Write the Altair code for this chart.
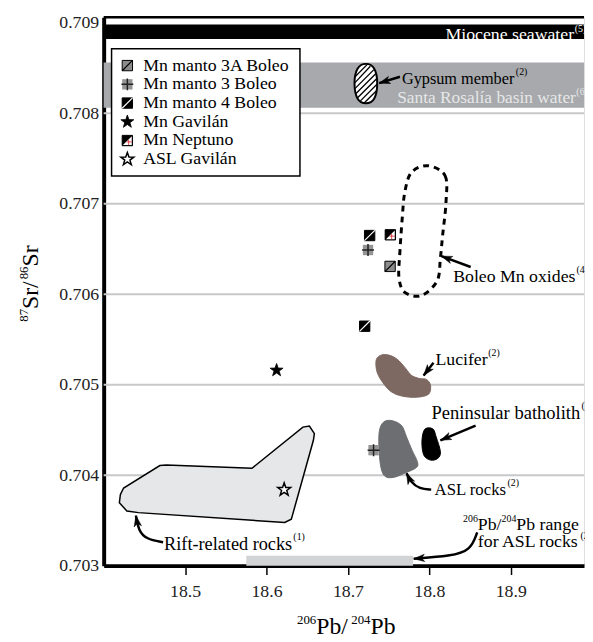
import altair as alt
import pandas as pd

FONT = "Liberation Serif"
W, H = 487, 556
X_DOMAIN = [18.40, 18.99]
Y_DOMAIN = [0.703, 0.70906]

x_ticks = [18.5, 18.6, 18.7, 18.8, 18.9]
y_ticks = [0.703, 0.704, 0.705, 0.706, 0.707, 0.708, 0.709]
grid_y = [0.704, 0.705, 0.706, 0.707, 0.708]

legend_labels = ["Mn manto 3A Boleo", "Mn manto 3 Boleo", "Mn manto 4 Boleo",
                 "Mn Gavilán", "Mn Neptuno", "ASL Gavilán"]

# measured samples
pt_series = ["Mn manto 3A Boleo", "Mn manto 3 Boleo", "Mn manto 3 Boleo",
             "Mn manto 4 Boleo", "Mn manto 4 Boleo", "Mn Gavilán",
             "Mn Neptuno", "ASL Gavilán"]
pt_x = [18.7518, 18.7247, 18.7315, 18.7267, 18.7206, 18.6124, 18.7521, 18.6217]
pt_y = [0.706307, 0.706488, 0.704276, 0.706648, 0.705646, 0.705159, 0.706656, 0.703840]

# horizontal reference bands
band_x0 = [18.40, 18.40]
band_x1 = [18.99, 18.99]
band_y0 = [0.70882, 0.70806]
band_y1 = [0.70898, 0.70856]
band_color = ["#000000", "#a7a9ac"]

# 206Pb/204Pb range for ASL rocks
pbr_x0 = [18.5752]
pbr_x1 = [18.7800]
pbr_y0 = [0.703]
pbr_y1 = [0.70311]

# fields (outlines)
rift_x = [18.4205, 18.4245, 18.4690, 18.4770, 18.5821, 18.6447, 18.6527, 18.6588,
          18.6576, 18.6305, 18.6224, 18.4427, 18.4285, 18.4193]
rift_y = [0.703785, 0.703858, 0.704106, 0.704112, 0.704076, 0.704531, 0.704542, 0.704458,
          0.704385, 0.703513, 0.703477, 0.703586, 0.703604, 0.703695]

asl_x = [18.7538, 18.7659, 18.7720, 18.7788, 18.7853, 18.7841, 18.7699, 18.7558,
         18.7457, 18.7408, 18.7384, 18.7384, 18.7436]
asl_y = [0.704603, 0.704548, 0.704422, 0.704276, 0.704149, 0.704084, 0.704022, 0.703975,
         0.703986, 0.704076, 0.704258, 0.704476, 0.704585]

bath_x = [18.7942, 18.8042, 18.8084, 18.8136, 18.8103, 18.8015, 18.7933, 18.7909]
bath_y = [0.704505, 0.704512, 0.704422, 0.704258, 0.704185, 0.704167, 0.704221, 0.704367]

luc_x = [18.7348, 18.7421, 18.7530, 18.7627, 18.7712, 18.7784, 18.7881, 18.7966,
         18.8015, 18.7990, 18.7845, 18.7675, 18.7542, 18.7445, 18.7360]
luc_y = [0.705275, 0.705330, 0.705319, 0.705264, 0.705177, 0.705101, 0.705068, 0.705057,
         0.704992, 0.704894, 0.704861, 0.704872, 0.704916, 0.705003, 0.705134]

boleo_x = [18.7982, 18.8193, 18.8205, 18.8164, 18.8136, 18.8096, 18.7902, 18.7699,
           18.7627, 18.7639, 18.7667, 18.7699, 18.7781]
boleo_y = [0.707419, 0.707310, 0.707019, 0.706656, 0.706401, 0.706147, 0.705984, 0.706020,
           0.706183, 0.706474, 0.706837, 0.707128, 0.707346]

gyp_x = [18.7221, 18.7324, 18.7360, 18.7324, 18.7221, 18.7118, 18.7081, 18.7118]
gyp_y = [0.708545, 0.708490, 0.708327, 0.708163, 0.708109, 0.708163, 0.708327, 0.708490]

hatch_x0 = [18.72420, 18.72755, 18.73193, 18.73415, 18.73554, 18.73600, 18.73504]
hatch_y0 = [0.708542, 0.708518, 0.708481, 0.708436, 0.708383, 0.708322, 0.708248]
hatch_x1 = [18.70908, 18.70812, 18.70858, 18.70998, 18.71220, 18.71536, 18.71993]
hatch_y1 = [0.708406, 0.708332, 0.708271, 0.708218, 0.708173, 0.708136, 0.708112]

# annotation labels (main text)
rtext = ["Miocene seawater", "Santa Rosalía basin water"]
rtext_x = [18.9778, 18.9800]
rtext_y = [0.708861, 0.708163]
rtext_size = [18, 17.6]
rtext_color = ["#ffffff", "#e6e7e8"]

ltext = ["Gypsum member", "Boleo Mn oxides", "Lucifer", "Peninsular batholith",
         "ASL rocks", "Pb/", "Pb range", "for ASL rocks", "Rift-related rocks"]
ltext_x = [18.7663, 18.8293, 18.8075, 18.8027, 18.8064, 18.8596, 18.9069, 18.8596, 18.4742]
ltext_y = [0.708382, 0.706191, 0.705275, 0.704687, 0.703840, 0.703444, 0.703444, 0.703259, 0.703240]
ltext_size = [16.5, 18, 18, 18.8, 17, 18, 18, 18, 18.5]

# superscripts of the annotation labels
stext = ["(5)", "(6)", "(2)", "(4)", "(2)", "(2)", "(2)", "206", "204", "(2)", "(1)"]
stext_x = [18.9785, 18.9806, 18.9063, 18.9808, 18.8724, 18.9869, 18.8960, 18.8415, 18.8887,
           18.9857, 18.6330]
stext_y = [0.708933, 0.708235, 0.708454, 0.706263, 0.705347, 0.704759, 0.703912, 0.703516,
           0.703516, 0.703331, 0.703312]
stext_color = ["#ffffff", "#e6e7e8", "#000000", "#000000", "#000000", "#000000", "#000000",
               "#000000", "#000000", "#000000", "#000000"]

# axis titles, split into normal and superscript pieces
xt_text = ["206", "Pb/", "204", "Pb"]
xt_sup = [True, False, True, False]
yt_text = ["87", "Sr/", "86", "Sr"]
yt_sup = [True, False, True, False]

# arrows
arrow_id = ["gyp"] * 2 + ["boleo"] * 2 + ["luc"] * 2 + ["bath"] * 2 + ["asl"] * 4 + ["pbr"] * 4 + ["rift"] * 4
arrow_x = [18.7639, 18.7384,
           18.8508, 18.8148,
           18.8051, 18.7930,
           18.8568, 18.8136,
           18.8023, 18.7881, 18.7772, 18.7720,
           18.8588, 18.8508, 18.8265, 18.7808,
           18.4730, 18.4524, 18.4427, 18.4396]
arrow_y = [0.708403, 0.708332,
           0.706300, 0.706420,
           0.705243, 0.705101,
           0.704548, 0.704385,
           0.703840, 0.703847, 0.703924, 0.704022,
           0.703368, 0.703168, 0.703106, 0.703077,
           0.703259, 0.703292, 0.703390, 0.703553]
head_x = [18.7384, 18.8148, 18.7930, 18.8136, 18.7720, 18.7808, 18.4396]
head_y = [0.708332, 0.706420, 0.705101, 0.704385, 0.704022, 0.703077, 0.703553]
head_angle = [253, 290, 218, 247, 334, 266, 350]

# ---------------------------------------------------------------- helpers
xs = alt.Scale(domain=X_DOMAIN, nice=False, zero=False)
ys = alt.Scale(domain=Y_DOMAIN, nice=False, zero=False)
x_axis = alt.Axis(values=x_ticks, format=".1f", title="", grid=False,
                  domainColor="black", domainWidth=4, tickColor="black", tickWidth=1.5,
                  tickSize=9, labelFont=FONT, labelFontSize=18, labelColor="#222222",
                  labelPadding=8)
y_axis = alt.Axis(values=y_ticks, format=".3f", title="", grid=False, ticks=False,
                  tickSize=0, domainColor="black", domainWidth=4, labelFont=FONT,
                  labelFontSize=18, labelColor="#222222", labelPadding=5)


def X(f):
    return alt.X(f, type="quantitative", scale=xs, axis=x_axis)


def Y(f):
    return alt.Y(f, type="quantitative", scale=ys, axis=y_axis)


def shape_layer(sx, sy, interp, **mk):
    df = pd.DataFrame({"x": sx, "y": sy, "i": list(range(len(sx)))})
    return alt.Chart(df).mark_line(interpolate=interp, **mk).encode(
        x=X("x"), y=Y("y"), order=alt.Order("i:Q"))


DIAG = "M-1,1L1,-1"
CROSS = "M-1.15,0L1.15,0M0,-1.15L0,1.15"
STAR = ("M0,-1L0.235,-0.324L0.951,-0.309L0.38,0.124L0.588,0.809L0,0.4L-0.588,0.809"
        "L-0.38,0.124L-0.951,-0.309L-0.235,-0.324Z")
TRI = "M1,-1L1,1L-1,1Z"
RED = "M0.3,-0.2L0.3,1M-0.2,0.3L1,0.3"
HEAD = "M0,0L0.75,2.2L0,1.6L-0.75,2.2Z"

components = {
    "Mn manto 3A Boleo": [dict(shape="square", size=110, fill="#8c8c8c", stroke="black", strokeWidth=1),
                          dict(shape=DIAG, size=110, fill="transparent", stroke="black", strokeWidth=1.2)],
    "Mn manto 3 Boleo": [dict(shape="square", size=110, fill="#949494", stroke="transparent", strokeWidth=0),
                         dict(shape=CROSS, size=110, fill="transparent", stroke="#222222", strokeWidth=1.5)],
    "Mn manto 4 Boleo": [dict(shape="square", size=110, fill="black", stroke="black", strokeWidth=1),
                         dict(shape=DIAG, size=110, fill="transparent", stroke="white", strokeWidth=1.2)],
    "Mn Gavilán": [dict(shape=STAR, size=190, fill="black", stroke="black", strokeWidth=0.8)],
    "Mn Neptuno": [dict(shape="square", size=110, fill="black", stroke="black", strokeWidth=1),
                   dict(shape=TRI, size=80, fill="white", stroke="transparent", strokeWidth=0),
                   dict(shape=RED, size=80, fill="transparent", stroke="#e0202a", strokeWidth=0.8)],
    "ASL Gavilán": [dict(shape=STAR, size=190, fill="white", stroke="black", strokeWidth=1.5)],
}


def marker_layers(df, xenc, yenc):
    out = []
    for s in legend_labels:
        for comp in components[s]:
            out.append(alt.Chart(df).transform_filter(alt.datum.series == s)
                       .mark_point(opacity=1, fillOpacity=1, **comp)
                       .encode(x=xenc, y=yenc))
    return out


one = pd.DataFrame({"k": [0]})

# ---------------------------------------------------------------- data layers
grid = alt.Chart(pd.DataFrame({"y": grid_y})).mark_rule(color="#c7c8ca", strokeWidth=2).encode(y=Y("y"))

bands = alt.Chart(pd.DataFrame({"x0": band_x0, "x1": band_x1, "y0": band_y0, "y1": band_y1,
                                "c": band_color})).mark_rect().encode(
    x=X("x0"), x2="x1", y=Y("y0"), y2="y1", color=alt.Color("c:N", scale=None))

pbr = alt.Chart(pd.DataFrame({"x0": pbr_x0, "x1": pbr_x1, "y0": pbr_y0, "y1": pbr_y1})).mark_rect(
    color="#d1d3d4").encode(x=X("x0"), x2="x1", y=Y("y0"), y2="y1")

rift = shape_layer(rift_x, rift_y, "linear-closed", fill="#e6e7e8", stroke="black", strokeWidth=1.5)
asl = shape_layer(asl_x, asl_y, "cardinal-closed", fill="#6d6e71", stroke="#6d6e71", strokeWidth=1)
bath = shape_layer(bath_x, bath_y, "cardinal-closed", fill="black", stroke="black", strokeWidth=1)
luc = shape_layer(luc_x, luc_y, "cardinal-closed", fill="#7d6962", stroke="#7d6962", strokeWidth=1)
boleo = shape_layer(boleo_x, boleo_y, "cardinal-closed", stroke="black", strokeWidth=3,
                    strokeDash=[6, 5])
gyp = shape_layer(gyp_x, gyp_y, "cardinal-closed", fill="white", stroke="black", strokeWidth=2)
hatch = alt.Chart(pd.DataFrame({"x0": hatch_x0, "y0": hatch_y0, "x1": hatch_x1, "y1": hatch_y1})).mark_rule(
    color="black", strokeWidth=1.3).encode(x=X("x0"), y=Y("y0"), x2="x1", y2="y1")

pts_df = pd.DataFrame({"series": pt_series, "x": pt_x, "y": pt_y})
pts = marker_layers(pts_df, X("x"), Y("y"))

arrows = alt.Chart(pd.DataFrame({"a": arrow_id, "x": arrow_x, "y": arrow_y,
                                 "i": list(range(len(arrow_x)))})).mark_line(
    interpolate="basis", color="black", strokeWidth=2.5).encode(
    x=X("x"), y=Y("y"), detail="a:N", order=alt.Order("i:Q"))
heads = alt.Chart(pd.DataFrame({"x": head_x, "y": head_y, "ang": head_angle})).mark_point(
    shape=HEAD, size=100, filled=True, fill="black", stroke="black", strokeWidth=0.5,
    opacity=1).encode(x=X("x"), y=Y("y"), angle=alt.Angle("ang:Q", scale=None))

rt = alt.Chart(pd.DataFrame({"t": rtext, "x": rtext_x, "y": rtext_y, "c": rtext_color,
                             "s": rtext_size})).mark_text(
    align="right", baseline="middle", font=FONT).encode(
    x=X("x"), y=Y("y"), text="t:N", color=alt.Color("c:N", scale=None),
    size=alt.Size("s:Q", scale=None))
lt = alt.Chart(pd.DataFrame({"t": ltext, "x": ltext_x, "y": ltext_y, "s": ltext_size})).mark_text(
    align="left", baseline="middle", font=FONT, color="black").encode(
    x=X("x"), y=Y("y"), text="t:N", size=alt.Size("s:Q", scale=None))
st = alt.Chart(pd.DataFrame({"t": stext, "x": stext_x, "y": stext_y, "c": stext_color})).mark_text(
    align="left", baseline="middle", font=FONT, fontSize=10).encode(
    x=X("x"), y=Y("y"), text="t:N", color=alt.Color("c:N", scale=None))

topline = alt.Chart(one).mark_rule(color="black", strokeWidth=2.5).encode(y=alt.value(0))

# axis titles built from pieces (superscripts)
xt_pos = [196, 215.5, 251, 270.5]
yt_pos = [308.7, 295.7, 265.7, 252.7]
xt_layers = []
yt_layers = []
for k in range(4):
    xsub = pd.DataFrame({"t": [xt_text[k]]})
    xt_layers.append(alt.Chart(xsub).mark_text(
        align="left", baseline="alphabetic", font=FONT,
        fontSize=13 if xt_sup[k] else 24, color="black").encode(
        x=alt.value(xt_pos[k]), y=alt.value(615 if xt_sup[k] else 625), text="t:N"))
    ysub = pd.DataFrame({"t": [yt_text[k]]})
    yt_layers.append(alt.Chart(ysub).mark_text(
        align="left", baseline="alphabetic", font=FONT, angle=270,
        fontSize=13 if yt_sup[k] else 24, color="black").encode(
        x=alt.value(-77 if yt_sup[k] else -67), y=alt.value(yt_pos[k]), text="t:N"))

main = alt.layer(grid, bands, pbr, rift, asl, bath, luc, boleo, gyp, hatch, *pts,
                 arrows, heads, rt, lt, st, topline, *xt_layers, *yt_layers)

# ---------------------------------------------------------------- legend
leg_df = pd.DataFrame({"series": legend_labels})
leg_y = alt.Y("series:N", sort=legend_labels,
              scale=alt.Scale(type="point", range=[49, 144], padding=0), axis=None)
leg_box = alt.Chart(one).mark_rect(fill="white", stroke="black", strokeWidth=1.5).encode(
    x=alt.value(8), x2=alt.value(199), y=alt.value(32), y2=alt.value(161))
leg_syms = marker_layers(leg_df, alt.value(24), leg_y)
leg_text = alt.Chart(leg_df).mark_text(align="left", baseline="middle", font=FONT,
                                       fontSize=18, color="black").encode(
    x=alt.value(40), y=leg_y, text="series:N")
legend = alt.layer(leg_box, *leg_syms, leg_text)

chart = alt.layer(main, legend).resolve_scale(y="independent").properties(
    width=W, height=H, autosize=alt.AutoSizeParams(type="none"),
    padding={"left": 97, "top": 5, "right": 1, "bottom": 72},
).configure_view(strokeWidth=0).configure(background="white")

chart.save("out.html", embed_options={"renderer": "svg", "actions": False})
